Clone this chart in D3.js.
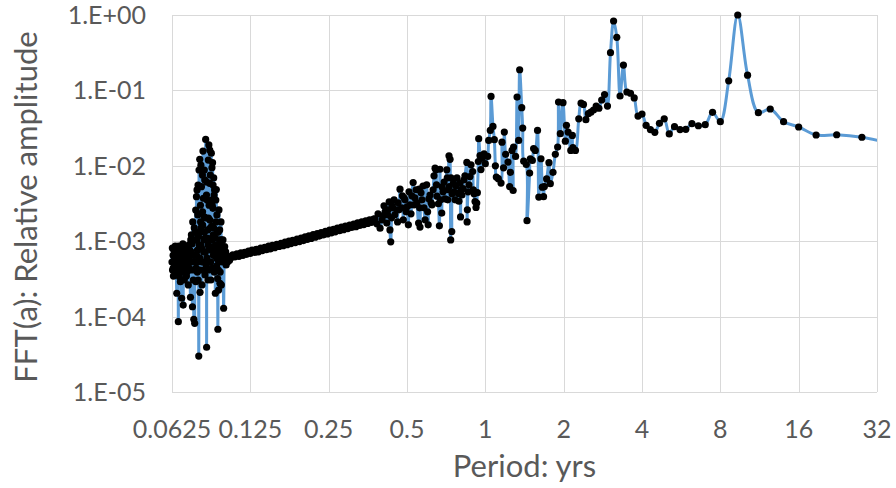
<!DOCTYPE html>
<html>
<head>
<meta charset="utf-8">
<script src="https://cdn.jsdelivr.net/npm/d3@7"></script>
<style>
  html, body { margin: 0; padding: 0; background: #fff; }
  svg text { font-family: Lato, "Open Sans", sans-serif; fill: #595959; }
</style>
</head>
<body>
<div class="d3-Graphs"></div>
<script>
// tick values
const xTicks = [0.0625, 0.125, 0.25, 0.5, 1, 2, 4, 8, 16, 32];
const xTickLabels = ['0.0625', '0.125', '0.25', '0.5', '1', '2', '4', '8', '16', '32'];
const yTicks = [1e-5, 1e-4, 1e-3, 1e-2, 1e-1, 1];

// short periods: the noisy cluster near 0.07 yr
const clusterPeriod = [0.0625,0.0628,0.0631,0.0633,0.0636,0.0642,0.0644,0.0647,0.0652,0.0653,
    0.0659,0.0661,0.0664,0.0667,0.0670,0.0673,0.0676,0.0681,0.0682,0.0685,
    0.0688,0.0690,0.0694,0.0697,0.0700,0.0703,0.0706,0.0710,0.0712,0.0715,
    0.0719,0.0722,0.0725,0.0728,0.0731,0.0736,0.0738,0.0742,0.0744,0.0749,
    0.0751,0.0753,0.0758,0.0759,0.0761,0.0764,0.0766,0.0768,0.0771,0.0772,
    0.0774,0.0776,0.0778,0.0780,0.0783,0.0785,0.0786,0.0788,0.0792,0.0794,
    0.0795,0.0797,0.0799,0.0801,0.0802,0.0804,0.0806,0.0808,0.0811,0.0813,
    0.0815,0.0818,0.0820,0.0822,0.0824,0.0825,0.0827,0.0829,0.0831,0.0835,
    0.0837,0.0838,0.0842,0.0844,0.0846,0.0849,0.0851,0.0853,0.0857,0.0859,
    0.0860,0.0862,0.0864,0.0866,0.0868,0.0869,0.0872,0.0874,0.0875,0.0877,
    0.0880,0.0882,0.0885,0.0887,0.0889,0.0891,0.0893,0.0895,0.0898,0.0899,
    0.0901,0.0903,0.0905,0.0907,0.0911,0.0913,0.0917,0.0920,0.0922,0.0925,
    0.0928,0.0930,0.0932,0.0933,0.0936,0.0938,0.0940,0.0941,0.0944,0.0947,
    0.0948,0.0953,0.0955,0.0957,0.0958,0.0961,0.0964,0.0967,0.0970,0.0974,
    0.0979,0.0981,0.0987,0.0992,0.0996,0.1000,0.1005,0.1009,0.1013,0.1022,
    0.1031,0.1040];
const clusterAmp = [5.3e-4,4.15e-4,6.5e-4,3.45e-4,7.6e-4,4.85e-4,3.9e-4,6.0e-4,2.04e-4,7.2e-4,
    4.4e-4,8.56e-5,6.4e-4,3.38e-4,8.4e-4,2.9e-4,5.3e-4,1.75e-4,7.6e-4,4.15e-4,
    9.2e-4,1.42e-4,6.0e-4,3.06e-4,8.6e-4,4.7e-4,7.2e-4,3.45e-4,8.1e-4,5.3e-4,
    6.5e-4,2.63e-4,8.9e-4,4.4e-4,7.6e-4,1.8e-4,1.04e-3,1.21e-3,5.3e-4,1.35e-4,
    1.8e-3,6.5e-4,9.2e-5,4.15e-4,1.5e-3,8.15e-5,6.5e-4,1.04e-3,2.59e-3,2.9e-4,
    4.4e-4,3.89e-3,1.04e-3,4.78e-3,7.6e-4,2.23e-3,5.3e-4,3.06e-4,3.0e-5,8.8e-3,
    8.9e-4,1.32e-3,1.22e-2,2.1e-4,4.15e-4,3.0e-3,8.9e-4,1.5e-3,5.28e-3,5.3e-4,
    2.63e-4,7.55e-3,1.64e-3,1.57e-2,5.3e-4,3.71e-3,7.2e-4,1.04e-3,2.11e-3,6.5e-3,
    3.56e-4,1.1e-3,2.24e-2,2.03e-3,4.85e-4,3.92e-5,6.0e-4,3.52e-3,1.41e-3,3.06e-4,
    8.9e-4,1.19e-2,4.15e-4,1.89e-2,3.0e-3,8.1e-4,5.86e-3,1.91e-3,1.04e-3,7.55e-3,
    5.3e-4,3.06e-4,1.47e-2,3.52e-3,1.59e-3,1.04e-3,4.4e-4,1.1e-2,2.73e-3,5.56e-3,
    6.5e-4,1.5e-3,8.5e-4,4.1e-3,4.78e-3,4.4e-4,2.04e-4,8.9e-4,1.8e-3,4.85e-3,
    4.7e-4,2.23e-3,1.32e-3,7.6e-4,3.2e-4,6.8e-5,5.6e-4,1.32e-3,2.25e-4,2.6e-3,
    6.5e-4,1.41e-3,2.77e-4,3.9e-4,5.63e-4,9.8e-4,1.8e-3,2.63e-4,8.1e-4,5.3e-4,
    7.2e-4,1.04e-3,1.29e-4,6.0e-4,8.45e-4,5.3e-4,7.2e-4,4.85e-4,6.5e-4,5.3e-4,
    6.2e-4,5.6e-4];

// more readings inside the same cluster (the solid black part)
const clusterPeriod2 = [0.0627,0.0632,0.0639,0.0643,0.0649,0.0656,0.0662,0.0666,0.0671,0.0678,
    0.0683,0.0692,0.0696,0.0701,0.0708,0.0713,0.0720,0.0726,0.0733,0.0740,
    0.0746,0.0755,0.0763,0.0770,0.0777,0.0782,0.0787,0.0790,0.0798,0.0805,
    0.0807,0.0812,0.0819,0.0826,0.0832,0.0833,0.0840,0.0848,0.0850,0.0855,
    0.0863,0.0870,0.0873,0.0878,0.0886,0.0890,0.0892,0.0900,0.0904,0.0908,
    0.0916,0.0921,0.0926,0.0934,0.0942,0.0951,0.0959,0.0968];
const clusterAmp2 = [8.1e-4,4.4e-4,6.0e-4,8.6e-4,4.15e-4,5.6e-4,8.6e-4,4.85e-4,6.4e-4,3.9e-4,
    6.0e-4,7.2e-4,4.7e-4,6.5e-4,5.3e-4,3.9e-4,8.1e-4,6.0e-4,4.15e-4,7.2e-4,
    9.2e-4,3.06e-4,5.3e-4,1.32e-3,6.5e-4,3.9e-4,5.56e-3,1.16e-3,6.0e-4,1.8e-3,
    1.02e-2,8.1e-4,2.45e-3,4.15e-4,8.8e-3,1.32e-3,7.2e-4,4.1e-3,6.1e-3,1.1e-3,
    2.03e-3,5.3e-4,1.62e-2,1.5e-3,7.6e-4,9.4e-3,3.0e-3,1.21e-3,6.9e-3,3.9e-4,
    1.1e-3,3.52e-3,6.0e-4,8.9e-4,4.15e-4,1.04e-3,7.6e-4,1.04e-3];

// the quiet rising band, 0.1 - 0.37 yr
const bandPeriod = [0.105,0.107,0.109,0.111,0.113,0.115,0.117,0.119,0.121,0.123,
    0.125,0.127,0.130,0.132,0.134,0.137,0.139,0.142,0.144,0.147,
    0.149,0.152,0.155,0.158,0.161,0.164,0.167,0.170,0.173,0.176,
    0.179,0.182,0.186,0.189,0.193,0.196,0.200,0.203,0.207,0.210,
    0.214,0.218,0.222,0.226,0.230,0.234,0.238,0.243,0.247,0.252,
    0.256,0.261,0.265,0.270,0.275,0.280,0.285,0.290,0.296,0.301,
    0.306,0.312,0.318,0.323,0.329,0.335,0.341,0.347,0.353,0.359,
    0.365,0.372];
const bandAmp = [6.0e-4,6.6e-4,6.2e-4,6.8e-4,6.3e-4,7.0e-4,6.5e-4,7.1e-4,6.7e-4,7.4e-4,
    6.9e-4,7.6e-4,7.1e-4,7.8e-4,7.2e-4,8.1e-4,7.5e-4,8.3e-4,7.7e-4,8.6e-4,
    7.9e-4,8.8e-4,8.2e-4,9.1e-4,8.5e-4,9.4e-4,8.7e-4,9.7e-4,9.0e-4,1.00e-3,
    9.3e-4,1.03e-3,9.6e-4,1.07e-3,9.9e-4,1.10e-3,1.02e-3,1.14e-3,1.06e-3,1.18e-3,
    1.09e-3,1.22e-3,1.13e-3,1.26e-3,1.17e-3,1.30e-3,1.21e-3,1.35e-3,1.25e-3,1.40e-3,
    1.29e-3,1.44e-3,1.33e-3,1.49e-3,1.38e-3,1.54e-3,1.42e-3,1.58e-3,1.47e-3,1.64e-3,
    1.52e-3,1.69e-3,1.56e-3,1.75e-3,1.62e-3,1.80e-3,1.66e-3,1.86e-3,1.72e-3,1.92e-3,
    1.78e-3,1.97e-3];

// scattered part, 0.37 - 1 yr
const noisyPeriod = [0.376,0.383,0.387,0.394,0.401,0.404,0.408,0.412,0.418,0.421,
    0.423,0.427,0.430,0.433,0.436,0.438,0.441,0.446,0.449,0.457,
    0.460,0.462,0.466,0.470,0.477,0.480,0.484,0.487,0.491,0.496,
    0.500,0.506,0.509,0.513,0.518,0.522,0.528,0.532,0.536,0.542,
    0.546,0.554,0.557,0.559,0.561,0.566,0.571,0.576,0.581,0.587,
    0.595,0.600,0.603,0.607,0.613,0.619,0.624,0.630,0.635,0.641,
    0.646,0.649,0.652,0.660,0.666,0.669,0.673,0.680,0.682,0.688,
    0.694,0.700,0.711,0.714,0.717,0.719,0.725,0.727,0.732,0.736,
    0.738,0.743,0.745,0.754,0.758,0.765,0.772,0.778,0.788,0.792,
    0.800,0.803,0.807,0.813,0.821,0.828,0.835,0.849,0.851,0.853,
    0.858,0.865,0.873,0.881,0.894,0.899,0.905,0.913,0.921,0.927,
    0.932,0.940,0.943,0.954,0.962,0.971,0.989];
const noisyAmp = [1.98e-3,1.70e-3,2.31e-3,1.49e-3,1.92e-3,2.17e-3,2.95e-3,2.45e-3,1.74e-3,2.24e-3,
    2.61e-3,3.33e-3,1.41e-3,9.8e-4,2.04e-3,2.95e-3,2.77e-3,3.54e-3,2.24e-3,2.61e-3,
    1.8e-3,3.23e-3,2.61e-3,4.9e-3,2.77e-3,4.0e-3,1.92e-3,3.76e-3,3.54e-3,2.45e-3,
    2.86e-3,1.65e-3,4.52e-3,3.04e-3,2.31e-3,4.0e-3,6.0e-3,3.04e-3,3.76e-3,4.81e-3,
    3.23e-3,1.74e-3,4.9e-3,2.77e-3,1.54e-3,4.38e-3,3.54e-3,5.4e-3,2.77e-3,1.92e-3,
    5.6e-3,2.45e-3,1.65e-3,3.65e-3,4.1e-3,3.23e-3,3.04e-3,4.81e-3,7.37e-3,9.3e-3,
    8.85e-3,5.6e-3,3.95e-3,3.14e-3,1.6e-3,9.0e-3,3.54e-3,2.36e-3,5.25e-3,4.52e-3,
    6.1e-3,3.65e-3,8.85e-3,6.9e-3,3.54e-3,4.81e-3,1.36e-2,5.31e-3,1.22e-2,1.04e-3,
    6.9e-3,1.34e-3,4.25e-3,5.9e-3,4.52e-3,3.54e-3,5.4e-3,6.9e-3,4.3e-3,3.4e-3,
    5.9e-3,2.1e-3,4.81e-3,4.1e-3,5.0e-3,6.53e-3,7.37e-3,1.11e-2,1.8e-3,2.61e-3,
    4.52e-3,5.6e-3,7.2e-3,1.03e-2,8.4e-3,4.81e-3,4.25e-3,3.35e-3,2.8e-3,3.2e-3,
    4.4e-3,1.14e-2,2.29e-2,1.37e-2,8.9e-3,1.26e-2,1.44e-2];

// long periods, 1 yr and up
const tailPeriod = [1.000,1.021,1.030,1.045,1.052,1.070,1.083,1.093,1.102,1.122,
    1.149,1.159,1.175,1.183,1.197,1.222,1.240,1.248,1.266,1.279,
    1.284,1.307,1.324,1.343,1.355,1.380,1.392,1.404,1.437,1.446,
    1.480,1.489,1.516,1.533,1.556,1.587,1.605,1.636,1.656,1.674,
    1.686,1.720,1.756,1.777,1.820,1.858,1.896,1.911,1.942,1.988,
    2.030,2.050,2.080,2.130,2.160,2.170,2.220,2.286,2.333,2.383,
    2.435,2.489,2.545,2.605,2.667,2.732,2.800,2.872,2.947,3.027,
    3.111,3.200,3.294,3.394,3.500,3.613,3.733,3.862,4.000,4.148,
    4.308,4.480,4.667,4.870,5.091,5.333,5.600,5.895,6.222,6.588,
    7.000,7.467,8.000,8.615,9.333,10.18,11.20,12.44,14.00,16.00,
    18.67,22.40,28.00,37.33];
const tailAmp = [0.01066,0.0133,0.0217,0.0295,0.0833,0.0333,0.0222,0.0100,0.00708,0.00675,
    0.0059,0.0206,0.0094,0.028,0.0142,0.0112,0.0053,0.0082,0.016,0.0047,
    0.0177,0.0133,0.0815,0.0217,0.188,0.059,0.0316,0.0115,0.0104,0.00187,
    0.008,0.0124,0.0118,0.0169,0.016,0.0295,0.00385,0.0124,0.0052,0.0039,
    0.0053,0.0067,0.011,0.0058,0.0082,0.0142,0.0177,0.070,0.0267,0.0687,
    0.0212,0.0344,0.028,0.016,0.0253,0.0174,0.016,0.042,0.0678,0.0652,
    0.0409,0.0491,0.0515,0.055,0.062,0.058,0.0746,0.088,0.062,0.316,
    0.832,0.506,0.0843,0.217,0.0953,0.0916,0.0795,0.0457,0.0486,0.0344,
    0.0302,0.0278,0.0366,0.042,0.0265,0.033,0.0302,0.0305,0.0362,0.034,
    0.0351,0.0512,0.0385,0.134,1.0,0.159,0.0506,0.0567,0.0385,0.0327,
    0.0256,0.0258,0.0239,0.0193];

(() => {
    const width = 896,
          height = 488,
          plot = { left: 172, right: 877, top: 15, bottom: 392 };

    const svg = d3.select('.d3-Graphs')
        .append('svg')
        .attr('width', width)
        .attr('height', height);

    const x = d3.scaleLog().base(2)
        .domain([0.0625, 32])
        .range([plot.left, plot.right]);

    const y = d3.scaleLog()
        .domain([1e-5, 1])
        .range([plot.bottom, plot.top]);

    const pairs = (ps, as) => ps.map((p, i) => ({ p, a: as[i] }));
    const data = [].concat(
        pairs(clusterPeriod, clusterAmp),
        pairs(clusterPeriod2, clusterAmp2),
        pairs(bandPeriod, bandAmp),
        pairs(noisyPeriod, noisyAmp),
        pairs(tailPeriod, tailAmp)
    ).sort((a, b) => a.p - b.p);

    // grid
    const grid = svg.append('g').attr('stroke', '#d9d9d9').attr('stroke-width', 1);
    grid.selectAll('.vx')
        .data(xTicks)
        .enter().append('line')
        .attr('x1', d => Math.round(x(d)) + 0.5)
        .attr('x2', d => Math.round(x(d)) + 0.5)
        .attr('y1', plot.top)
        .attr('y2', plot.bottom);
    grid.selectAll('.hy')
        .data(yTicks)
        .enter().append('line')
        .attr('x1', plot.left)
        .attr('x2', plot.right)
        .attr('y1', d => Math.round(y(d)) + 0.5)
        .attr('y2', d => Math.round(y(d)) + 0.5);

    // tick labels
    const fmt = d => {
        const e = Math.round(Math.log10(d));
        return '1.E' + (e >= 0 ? '+' : '-') + String(Math.abs(e)).padStart(2, '0');
    };
    svg.append('g').selectAll('text')
        .data(yTicks)
        .enter().append('text')
        .attr('x', 146)
        .attr('y', d => y(d) + 9)
        .attr('text-anchor', 'end')
        .style('font-size', '25px')
        .text(fmt);

    svg.append('g').selectAll('text')
        .data(xTicks)
        .enter().append('text')
        .attr('x', d => x(d))
        .attr('y', 438)
        .attr('text-anchor', 'middle')
        .style('font-size', '25px')
        .text((d, i) => xTickLabels[i]);

    // axis titles
    svg.append('text')
        .attr('transform', 'translate(37,207) rotate(-90)')
        .attr('text-anchor', 'middle')
        .style('font-size', '31px')
        .text('FFT(a): Relative amplitude');

    svg.append('text')
        .attr('x', (plot.left + plot.right) / 2)
        .attr('y', 477)
        .attr('text-anchor', 'middle')
        .style('font-size', '31px')
        .text('Period: yrs');

    svg.append('clipPath').attr('id', 'clip')
        .append('rect')
        .attr('x', plot.left - 6)
        .attr('y', 0)
        .attr('width', plot.right - plot.left + 6)
        .attr('height', plot.bottom + 6);

    const body = svg.append('g').attr('clip-path', 'url(#clip)');

    const line = d3.line()
        .x(d => x(d.p))
        .y(d => y(d.a))
        .curve(d3.curveCatmullRom.alpha(0.5));

    body.append('path')
        .datum(data)
        .attr('fill', 'none')
        .attr('stroke', '#5b9bd5')
        .attr('stroke-width', 3)
        .attr('stroke-linejoin', 'round')
        .attr('d', line);

    body.selectAll('circle')
        .data(data)
        .enter().append('circle')
        .attr('cx', d => x(d.p))
        .attr('cy', d => y(d.a))
        .attr('r', 3.6)
        .attr('fill', '#000');
})();
</script>
</body>
</html>
